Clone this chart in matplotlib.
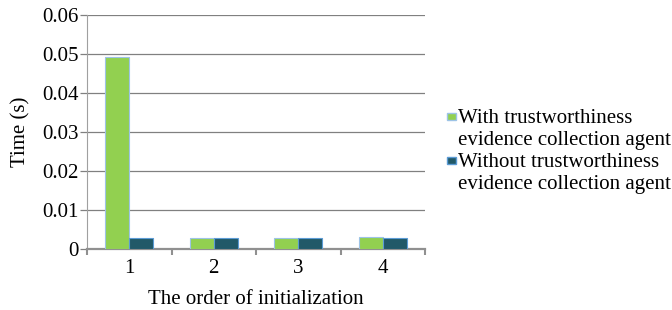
import matplotlib
matplotlib.use("Agg")
import matplotlib.pyplot as plt
from matplotlib.patches import Rectangle
import numpy as np

categories = ["1", "2", "3", "4"]
with_agent = [0.0492, 0.0028, 0.0028, 0.0031]
without_agent = [0.0029, 0.0029, 0.0029, 0.0029]
labels = ["With trustworthiness\nevidence collection agent",
          "Without trustworthiness\nevidence collection agent"]
colors = ["#92d050", "#215968"]
edges = ["#9dc3e6", "#5b9bd5"]

plt.rcParams['font.family'] = ['Liberation Serif', 'DejaVu Serif']
fs = 15

W, H = 672, 310
fig = plt.figure(figsize=(W / 100, H / 100), dpi=100)
ax = fig.add_axes([87 / W, 1 - 249 / H, (425 - 87) / W, (249 - 15) / H])

x = np.arange(1, len(categories) + 1)
w = 0.285
ax.bar(x - w / 2, with_agent, w, color=colors[0], edgecolor=edges[0],
       linewidth=0.8, zorder=3)
ax.bar(x + w / 2, without_agent, w, color=colors[1], edgecolor=edges[1],
       linewidth=0.8, zorder=3)

ax.set_xlim(0.5, 4.5)
ax.set_ylim(0, 0.06)
ax.set_yticks([0, 0.01, 0.02, 0.03, 0.04, 0.05, 0.06])
ax.set_yticklabels(["0", "0.01", "0.02", "0.03", "0.04", "0.05", "0.06"], fontsize=fs)
ax.yaxis.grid(True, color="#808080", linewidth=0.9, zorder=0)
ax.set_axisbelow(True)

ax.set_xticks(x)
ax.set_xticklabels(categories, fontsize=fs)
ax.set_xticks([0.5, 1.5, 2.5, 3.5, 4.5], minor=True)
ax.tick_params(axis='x', which='major', length=0, pad=7)
ax.tick_params(axis='x', which='minor', length=4, width=1.5, color="#909090", direction='out')
ax.tick_params(axis='y', length=5, width=0.9, color="#808080", pad=1)

for s in ["top", "right"]:
    ax.spines[s].set_visible(False)
ax.spines["left"].set_color("#a0a0a0")
ax.spines["left"].set_linewidth(0.8)
ax.spines["bottom"].set_color("#909090")
ax.spines["bottom"].set_linewidth(1.6)

ax.set_ylabel("Time (s)", fontsize=fs, labelpad=8.5)
ax.set_xlabel("The order of initialization", fontsize=fs, labelpad=9)

# manual legend: square marker aligned with the first text line
tops = [109, 153]
marker_tops = [113, 157]
for lab, c, e, t, mt in zip(labels, colors, edges, tops, marker_tops):
    fig.patches.append(Rectangle((447 / W, 1 - (mt + 7) / H), 9 / W, 7 / H,
                                 transform=fig.transFigure, facecolor=c,
                                 edgecolor=e, linewidth=1.0))
    fig.text(458 / W, 1 - t / H, lab, fontsize=fs, va="top", ha="left",
             linespacing=1.2)

fig.savefig("out.png", dpi=100)
